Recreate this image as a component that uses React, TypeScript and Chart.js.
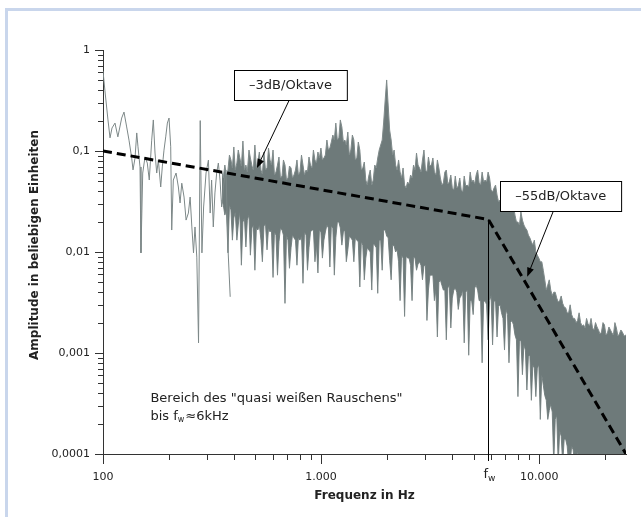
import React, { useEffect, useRef } from 'react';
import { Chart, registerables } from 'chart.js';

Chart.register(...registerables);

// ---- axis ranges & ticks ----
const X_MIN = 100;
const X_MAX = 25000;
const Y_MIN = 0.0001;
const Y_MAX = 1;

const xTickValues = [100, 200, 300, 400, 500, 600, 700, 800, 900, 1000, 2000, 3000, 4000, 5000, 6000, 7000, 8000, 9000, 10000, 20000];
const xTickLabels: Record<string, string> = { '100': '100', '1000': '1.000', '10000': '10.000' };

const yTickValues = [
  0.0001, 0.0002, 0.0003, 0.0004, 0.0005, 0.0006, 0.0007, 0.0008, 0.0009,
  0.001, 0.002, 0.003, 0.004, 0.005, 0.006, 0.007, 0.008, 0.009,
  0.01, 0.02, 0.03, 0.04, 0.05, 0.06, 0.07, 0.08, 0.09,
  0.1, 0.2, 0.3, 0.4, 0.5, 0.6, 0.7, 0.8, 0.9, 1,
];
const yTickLabels: Record<string, string> = { '1': '1', '0.1': '0,1', '0.01': '0,01', '0.001': '0,001', '0.0001': '0,0001' };

// ---- spectrum: sparse low-frequency part (line) ----
const sparseFreq = [100, 102, 105.4, 107.7, 110, 113.5, 117, 121.8, 124.8, 128.4, 131.6, 135.4, 137.3, 140.2, 142.8, 144.7, 147.8, 149.3, 152.1, 155.8, 159.6, 163, 167.2, 170.1, 173.2, 176.3, 179.4, 183.9, 187, 190.4, 193.9, 197.3, 200.8, 204.4, 206.6, 210.1, 216.3, 221.6, 225.6, 229.7, 235.3, 240.4, 246.3, 250.9, 255.5, 260, 264.1, 269.2, 274.2, 279.1, 284.2, 289.3, 296.8, 304.3, 310, 314.8, 320.4, 326, 332, 338, 344, 350, 356.6, 366, 375, 383];
const sparseAmp = [0.62, 0.40, 0.203, 0.135, 0.169, 0.189, 0.138, 0.212, 0.243, 0.173, 0.128, 0.085, 0.065, 0.085, 0.151, 0.110, 0.0695, 0.0098, 0.0605, 0.087, 0.076, 0.0516, 0.128, 0.203, 0.0955, 0.0605, 0.0813, 0.044, 0.0695, 0.102, 0.138, 0.189, 0.212, 0.110, 0.0165, 0.0516, 0.0605, 0.044, 0.0306, 0.048, 0.035, 0.0207, 0.0243, 0.035, 0.0177, 0.0098, 0.0177, 0.0089, 0.00126, 0.2, 0.0098, 0.0279, 0.0605, 0.0813, 0.0243, 0.0516, 0.0177, 0.0384, 0.0605, 0.076, 0.0516, 0.0279, 0.044, 0.065, 0.0098, 0.0036];

// ---- spectrum: dense part (upper / lower envelope of the noise band) ----
const bandFreq = [351, 356, 362, 368, 374, 380, 386, 392, 398, 404, 411, 417, 424, 431, 438, 445, 452, 459, 467, 474, 482, 489, 497, 505, 513, 521, 530, 538, 547, 556, 565, 574, 583, 592, 602, 611, 621, 631, 641, 651, 662, 672, 683, 694, 705, 716, 728, 739, 751, 763, 775, 787, 800, 813, 826, 839, 853, 866, 880, 894, 908, 922, 937, 952, 967, 982, 998, 1014, 1030, 1046, 1063, 1080, 1097, 1114, 1132, 1150, 1168, 1187, 1206, 1225, 1245, 1265, 1285, 1305, 1326, 1347, 1369, 1391, 1413, 1435, 1458, 1481, 1505, 1529, 1553, 1578, 1603, 1628, 1654, 1680, 1707, 1734, 1762, 1790, 1818, 1847, 1876, 1906, 1936, 1967, 1998, 2030, 2062, 2095, 2128, 2162, 2196, 2231, 2266, 2302, 2339, 2376, 2414, 2452, 2491, 2531, 2571, 2612, 2653, 2695, 2738, 2782, 2826, 2871, 2916, 2962, 3009, 3057, 3105, 3154, 3204, 3255, 3307, 3360, 3413, 3467, 3522, 3578, 3635, 3693, 3751, 3811, 3871, 3933, 3995, 4059, 4123, 4189, 4255, 4323, 4391, 4461, 4531, 4603, 4676, 4751, 4826, 4902, 4980, 5059, 5139, 5221, 5304, 5388, 5474, 5561, 5649, 5739, 5830, 5922, 6016, 6112, 6209, 6308, 6408, 6510, 6613, 6718, 6824, 6933, 7043, 7155, 7268, 7384, 7501, 7620, 7741, 7864, 7989, 8116, 8244, 8375, 8508, 8643, 8780, 8920, 9061, 9205, 9351, 9499, 9650, 9803, 9959, 10117, 10278, 10441, 10607, 10775, 10946, 11120, 11296, 11476, 11658, 11843, 12031, 12222, 12416, 12613, 12813, 13016, 13223, 13433, 13646, 13863, 14083, 14307, 14534, 14765, 14999, 15237, 15479, 15725, 15974, 16228, 16485, 16747, 17013, 17283, 17557, 17836, 18119, 18407, 18699, 18996, 19297, 19604, 19915, 20231, 20552, 20879, 21210, 21546, 21888, 22236, 22589, 22947, 23312, 23682, 24058, 24525, 25000];
const bandUpper = [
  0.0619, 0.0540, 0.0726, 0.0565, 0.0648, 0.0912, 0.0815, 0.0679, 0.1096, 0.0648,
  0.0760, 0.1023, 0.0853, 0.0710, 0.1256, 0.0648, 0.0726, 0.0619, 0.1023, 0.0853,
  0.0710, 0.0648, 0.1146, 0.0679, 0.0778, 0.0977, 0.0648, 0.0592, 0.0977, 0.0648,
  0.0679, 0.107, 0.0815, 0.0726, 0.1023, 0.0578, 0.0619, 0.0726, 0.0872, 0.0540,
  0.0565, 0.0815, 0.0726, 0.0516, 0.0540, 0.0710, 0.0679, 0.0540, 0.0578, 0.0648,
  0.0815, 0.0578, 0.0619, 0.0912, 0.0726, 0.0578, 0.0648, 0.0619, 0.0872, 0.0726,
  0.0679, 0.1023, 0.0815, 0.0760, 0.0977, 0.0853, 0.107, 0.0815, 0.0853, 0.0912,
  0.1285, 0.1023, 0.107, 0.1228, 0.144, 0.1285, 0.189, 0.1285, 0.1345, 0.203,
  0.173, 0.1228, 0.1285, 0.1146, 0.154, 0.0912, 0.1023, 0.144, 0.1285, 0.0815,
  0.0853, 0.1228, 0.1023, 0.0648, 0.0679, 0.0778, 0.0516, 0.0460, 0.0565, 0.0648,
  0.0460, 0.0516, 0.0726, 0.0679, 0.0853, 0.1023, 0.1146, 0.1285, 0.1936, 0.320,
  0.505, 0.285, 0.1614, 0.1285, 0.0912, 0.1023, 0.0726, 0.0648, 0.0815, 0.0619,
  0.0540, 0.0679, 0.0460, 0.0430, 0.0493, 0.0471, 0.0578, 0.0540, 0.0726, 0.0648,
  0.0955, 0.0726, 0.0679, 0.0619, 0.0815, 0.1023, 0.0648, 0.0619, 0.0872, 0.0710,
  0.0726, 0.0853, 0.0619, 0.0578, 0.0815, 0.0679, 0.0540, 0.0460, 0.0482, 0.0619,
  0.0648, 0.0471, 0.0493, 0.0578, 0.0430, 0.0411, 0.0565, 0.0430, 0.0450, 0.0540,
  0.0411, 0.0393, 0.0565, 0.0450, 0.0460, 0.0440, 0.0619, 0.0493, 0.0516, 0.0471,
  0.0578, 0.0648, 0.0482, 0.0460, 0.0619, 0.0493, 0.0516, 0.0493, 0.0619, 0.0540,
  0.0411, 0.0393, 0.0430, 0.0460, 0.0366, 0.0313, 0.0327, 0.0306, 0.0384, 0.0366,
  0.0292, 0.0279, 0.0342, 0.0306, 0.0261, 0.0292, 0.0232, 0.0198, 0.0198, 0.0185,
  0.0249, 0.0207, 0.0185, 0.0173, 0.0165, 0.0147, 0.0138, 0.0126, 0.0117, 0.0131,
  0.0100, 0.0093, 0.0087, 0.0080, 0.0080, 0.0066, 0.0053, 0.0042, 0.0047, 0.0053,
  0.0042, 0.0037, 0.0040, 0.0040, 0.0035, 0.0032, 0.0033, 0.00367, 0.0031, 0.00285,
  0.0028, 0.00249, 0.0025, 0.0030, 0.0024, 0.0022, 0.0022, 0.0020, 0.0021, 0.0025,
  0.0020, 0.00185, 0.0019, 0.00177, 0.0022, 0.00194, 0.00185, 0.0022, 0.00177, 0.00169,
  0.0020, 0.00181, 0.00169, 0.00154, 0.00161, 0.0020, 0.0019, 0.00151, 0.00158, 0.00181,
  0.00169, 0.00158, 0.00151, 0.0020, 0.00177, 0.00147, 0.00154, 0.00169, 0.00161, 0.00147,
  0.00151];
const bandLower = [
  0.0327, 0.0292, 0.0232, 0.0261, 0.0098, 0.0292, 0.0261, 0.0131, 0.0217, 0.0249,
  0.0131, 0.0185, 0.0249, 0.0074, 0.0198, 0.0217, 0.0112, 0.0207, 0.0232, 0.0093,
  0.0173, 0.0185, 0.0066, 0.0173, 0.0165, 0.0185, 0.0131, 0.0080, 0.0181, 0.0189,
  0.0105, 0.0173, 0.0158, 0.0165, 0.0056, 0.0158, 0.0147, 0.0059, 0.0126, 0.0173,
  0.0165, 0.0147, 0.0031, 0.0147, 0.0131, 0.0069, 0.0110, 0.0147, 0.0138, 0.0131,
  0.0074, 0.0138, 0.0131, 0.0144, 0.0049, 0.0158, 0.0147, 0.0066, 0.0110, 0.0158,
  0.0165, 0.0165, 0.0080, 0.0117, 0.0062, 0.0165, 0.0158, 0.0087, 0.0131, 0.0158,
  0.0185, 0.0173, 0.0071, 0.0181, 0.0173, 0.0059, 0.0138, 0.0198, 0.0198, 0.0173,
  0.0117, 0.0158, 0.0165, 0.0080, 0.0105, 0.0144, 0.0138, 0.0131, 0.0080, 0.0138,
  0.0131, 0.0126, 0.0045, 0.0126, 0.0117, 0.0053, 0.0087, 0.0110, 0.0105, 0.0100,
  0.0042, 0.0120, 0.0117, 0.0110, 0.0039, 0.0131, 0.0131, 0.0066, 0.0165, 0.0165,
  0.0144, 0.0138, 0.0083, 0.0053, 0.0117, 0.0115, 0.0100, 0.0105, 0.0080, 0.0033,
  0.0093, 0.0087, 0.0023, 0.0091, 0.0087, 0.0087, 0.0074, 0.0033, 0.0089, 0.0087,
  0.0066, 0.0076, 0.0080, 0.0074, 0.0053, 0.0073, 0.0074, 0.0021, 0.0042, 0.0059,
  0.0059, 0.0059, 0.0033, 0.0042, 0.00144, 0.0050, 0.0053, 0.0047, 0.0042, 0.0042,
  0.00135, 0.0044, 0.0047, 0.00177, 0.0035, 0.0042, 0.0044, 0.0040, 0.0027, 0.0035,
  0.0037, 0.0042, 0.00126, 0.0040, 0.0042, 0.00095, 0.0033, 0.0033, 0.0024, 0.0044,
  0.0047, 0.0042, 0.0033, 0.0033, 0.0008, 0.0032, 0.0033, 0.0030, 0.00135, 0.0033,
  0.0037, 0.0012, 0.0033, 0.0032, 0.00144, 0.0029, 0.0030, 0.0025, 0.0022, 0.00107,
  0.0027, 0.0024, 0.0008, 0.0020, 0.0021, 0.0019, 0.00151, 0.00135, 0.00037, 0.00129,
  0.00135, 0.00061, 0.0012, 0.00107, 0.00043, 0.00093, 0.00095, 0.00034, 0.00076, 0.00071,
  0.00037, 0.00071, 0.00076, 0.00022, 0.00061, 0.00048, 0.00038, 0.00034, 0.00022, 0.00027,
  0.00031, 0.00026, 0.00008, 0.00022, 0.00024, 0.00008, 0.00017, 0.00015, 0.00008, 0.00014,
  0.00014, 0.00012, 0.00008, 0.00008, 0.00012, 0.00011, 0.00008, 0.00009, 0.000105, 0.00008,
  0.00008, 0.00008, 0.00008, 0.00008, 0.00008, 0.00008, 0.00008, 0.00008, 0.00008, 0.00008,
  0.00008, 0.00008, 0.00008, 0.00008, 0.00008, 0.00008, 0.00008, 0.00008, 0.00008, 0.00008,
  0.00008, 0.00008, 0.00008, 0.00008, 0.00008, 0.00008, 0.00008, 0.00008, 0.00008, 0.00008,
  0.00008];

// ---- dashed slope lines ----
const slopeFreq = [100, 5850, 25000];
const slopeAmp = [0.1, 0.021, 0.0001];

// ---- corner frequency ----
const FW = 5850;
const FW_AMP = 0.021;

// ---- annotation boxes with arrows ----
const annoTexts = ['\u20133dB/Oktave', '\u201355dB/Oktave'];
const annoBoxFreq = [724, 12550];
const annoBoxAmp = [0.45, 0.0358];
const annoTailFreq = [713, 11590];
const annoTipFreq = [508, 8810];
const annoTipAmp = [0.068, 0.0057];

// ---- note text ----
const noteLine1 = 'Bereich des "quasi weißen Rauschens"';
const noteFreq = 165;
const noteAmp = 0.00035;

const FONT = '"DejaVu Sans", sans-serif';
const TEXT = '#222';

const toPts = (xs: number[], ys: number[]) => xs.map((x, i) => ({ x, y: ys[i] }));

function drawArrow(ctx: CanvasRenderingContext2D, x1: number, y1: number, x2: number, y2: number) {
  const ang = Math.atan2(y2 - y1, x2 - x1);
  const L = 9, W = 3.5;
  ctx.beginPath();
  ctx.moveTo(x1, y1);
  ctx.lineTo(x2 - L * 0.6 * Math.cos(ang), y2 - L * 0.6 * Math.sin(ang));
  ctx.stroke();
  ctx.beginPath();
  ctx.moveTo(x2, y2);
  ctx.lineTo(x2 - L * Math.cos(ang) + W * Math.sin(ang), y2 - L * Math.sin(ang) - W * Math.cos(ang));
  ctx.lineTo(x2 - L * Math.cos(ang) - W * Math.sin(ang), y2 - L * Math.sin(ang) + W * Math.cos(ang));
  ctx.closePath();
  ctx.fill();
}

const overlayPlugin = {
  id: 'overlay',
  afterDraw(chart: any) {
    const ctx: CanvasRenderingContext2D = chart.ctx;
    const xs = chart.scales.x;
    const ys = chart.scales.y;
    const area = chart.chartArea;
    ctx.save();

    // light blue frame
    ctx.fillStyle = '#c9d6ec';
    ctx.fillRect(5, 8, chart.width - 5, 3);
    ctx.fillRect(5, 8, 3, chart.height - 8);

    // tick marks
    ctx.strokeStyle = '#333';
    ctx.lineWidth = 1;
    ctx.beginPath();
    for (const v of xTickValues) {
      const px = Math.round(xs.getPixelForValue(v)) + 0.5;
      const len = xTickLabels[String(v)] ? 10 : 6;
      ctx.moveTo(px, area.bottom);
      ctx.lineTo(px, area.bottom + len);
    }
    for (const v of yTickValues) {
      const py = Math.round(ys.getPixelForValue(v)) + 0.5;
      const len = yTickLabels[String(v)] ? 8 : 5;
      ctx.moveTo(area.left - len, py);
      ctx.lineTo(area.left, py);
    }
    ctx.stroke();

    // f_w vertical line
    const fx = Math.round(xs.getPixelForValue(FW)) + 0.5;
    const fy = ys.getPixelForValue(FW_AMP);
    ctx.strokeStyle = '#000';
    ctx.beginPath();
    ctx.moveTo(fx, fy);
    ctx.lineTo(fx, area.bottom + 7);
    ctx.stroke();

    // f_w label
    ctx.fillStyle = TEXT;
    ctx.textBaseline = 'alphabetic';
    ctx.textAlign = 'left';
    ctx.font = `13px ${FONT}`;
    ctx.fillText('f', fx - 5, 478);
    ctx.font = `9px ${FONT}`;
    ctx.fillText('w', fx - 0.5, 481);

    // axis titles
    ctx.font = `bold 12px ${FONT}`;
    ctx.textAlign = 'center';
    ctx.textBaseline = 'middle';
    ctx.fillText('Frequenz in Hz', (area.left + area.right) / 2, 496);
    ctx.save();
    ctx.translate(35, 245);
    ctx.rotate(-Math.PI / 2);
    ctx.fillText('Amplitude in beliebigen Einheiten', 0, 0);
    ctx.restore();

    // note text
    const nx = xs.getPixelForValue(noteFreq);
    const ny = ys.getPixelForValue(noteAmp);
    ctx.textAlign = 'left';
    ctx.textBaseline = 'middle';
    ctx.font = `13px ${FONT}`;
    ctx.fillText(noteLine1, nx, ny);
    let cx = nx;
    const ly = ny + 18;
    const p1 = 'bis f';
    ctx.fillText(p1, cx, ly);
    cx += ctx.measureText(p1).width;
    ctx.font = `8px ${FONT}`;
    ctx.fillText('w', cx, ly + 3);
    cx += ctx.measureText('w').width + 1;
    ctx.font = `13px ${FONT}`;
    ctx.fillText('\u22486kHz', cx, ly);

    // annotation boxes with arrows
    ctx.font = `13px ${FONT}`;
    for (let i = 0; i < annoTexts.length; i++) {
      const bx = xs.getPixelForValue(annoBoxFreq[i]);
      const by = ys.getPixelForValue(annoBoxAmp[i]);
      const tw = ctx.measureText(annoTexts[i]).width;
      const w = tw + 30;
      const h = 30;
      const left = Math.round(bx - w / 2) + 0.5;
      const top = Math.round(by - h / 2) + 0.5;
      ctx.fillStyle = '#fff';
      ctx.fillRect(left, top, w, h);
      ctx.strokeStyle = '#000';
      ctx.lineWidth = 1;
      ctx.strokeRect(left, top, w, h);
      ctx.fillStyle = TEXT;
      ctx.textAlign = 'center';
      ctx.textBaseline = 'middle';
      ctx.fillText(annoTexts[i], bx, by + 1);
      const tx = xs.getPixelForValue(annoTailFreq[i]);
      const ex = xs.getPixelForValue(annoTipFreq[i]);
      const ey = ys.getPixelForValue(annoTipAmp[i]);
      ctx.fillStyle = '#000';
      drawArrow(ctx, tx, top + h, ex, ey);
    }
    ctx.restore();
  },
};

export default function App() {
  const ref = useRef<HTMLCanvasElement>(null);
  useEffect(() => {
    const chart = new Chart(ref.current as HTMLCanvasElement, {
      type: 'line',
      data: {
        datasets: [
          {
            label: 'slope',
            data: toPts(slopeFreq, slopeAmp),
            borderColor: '#000',
            borderWidth: 3,
            borderDash: [9, 5],
            pointRadius: 0,
            fill: false,
          },
          {
            label: 'sparse',
            data: toPts(sparseFreq, sparseAmp),
            borderColor: '#7d8888',
            borderWidth: 1,
            pointRadius: 0,
            fill: false,
          },
          {
            label: 'upper',
            data: toPts(bandFreq, bandUpper),
            borderColor: '#7f8a8a',
            borderWidth: 1,
            backgroundColor: '#6e7a7a',
            pointRadius: 0,
            fill: '+1',
          },
          {
            label: 'lower',
            data: toPts(bandFreq, bandLower),
            borderColor: '#7f8a8a',
            borderWidth: 1,
            pointRadius: 0,
            fill: false,
          },
        ],
      } as any,
      options: {
        responsive: false,
        animation: false,
        devicePixelRatio: 1,
        layout: { padding: { top: 50, right: 15, left: 0, bottom: 0 } },
        plugins: { legend: { display: false }, tooltip: { enabled: false } },
        elements: { line: { tension: 0 } },
        scales: {
          x: {
            type: 'logarithmic',
            min: X_MIN,
            max: X_MAX,
            afterFit: (s: any) => { s.height = 63; },
            afterBuildTicks: (s: any) => { s.ticks = xTickValues.map((v) => ({ value: v })); },
            grid: { display: false, drawTicks: false },
            border: { display: true, color: '#333', width: 1 },
            ticks: {
              autoSkip: false,
              maxRotation: 0,
              padding: 17,
              color: TEXT,
              font: { family: FONT, size: 11 },
              callback: (v: any) => xTickLabels[String(v)] ?? '',
            },
          },
          y: {
            type: 'logarithmic',
            min: Y_MIN,
            max: Y_MAX,
            afterFit: (s: any) => { s.width = 103; },
            afterBuildTicks: (s: any) => { s.ticks = yTickValues.map((v) => ({ value: v })); },
            grid: { display: false, drawTicks: false },
            border: { display: true, color: '#333', width: 1 },
            ticks: {
              autoSkip: false,
              padding: 13,
              color: TEXT,
              font: { family: FONT, size: 11 },
              callback: (v: any) => yTickLabels[String(v)] ?? '',
            },
          },
        },
      } as any,
      plugins: [overlayPlugin],
    });
    return () => chart.destroy();
  }, []);
  return (
    <div style={{ position: 'absolute', left: 0, top: 0, width: 641, height: 517, background: '#fff' }}>
      <canvas ref={ref} width={641} height={517} style={{ display: 'block', width: 641, height: 517 }} />
    </div>
  );
}
